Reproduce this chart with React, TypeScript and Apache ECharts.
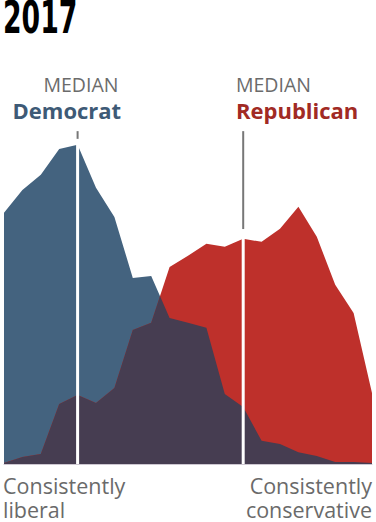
import React, { useEffect, useRef } from "react";
import * as echarts from "echarts";

// Ideological consistency scale (-10 consistently liberal ... +10 consistently conservative)
const scores = [-10, -9, -8, -7, -6, -5, -4, -3, -2, -1, 0, 1, 2, 3, 4, 5, 6, 7, 8, 9, 10];
// Share (%) of each party at each score, 2017
const democrat = [8.47, 9.24, 9.75, 10.62, 10.76, 9.31, 8.33, 6.27, 6.34, 4.92, 4.76, 4.59, 2.36, 1.92, 0.78, 0.67, 0.4, 0.27, 0.07, 0.07, 0.03];
const republican = [0.03, 0.24, 0.34, 2.02, 2.33, 2.06, 2.56, 4.52, 4.76, 6.64, 7.02, 7.42, 7.32, 7.59, 7.49, 7.93, 8.67, 7.66, 6.04, 5.09, 2.39];
const medianDemocrat = -6;
const medianRepublican = 3;
const yMax = 12;
const medianTickTop = 11.22;
const demTickBottom = 10.96;
const repTickBottom = 7.92;

const title = "2017";
const medianLabel = "MEDIAN";
const demLabel = "Democrat";
const repLabel = "Republican";
const leftLabel = ["Consistently", "liberal"];
const rightLabel = ["Consistently", "conservative"];

const BLUE = "#44637f";
const RED = "#be302b";
const DARK = "#463d51";

function overlap(xs: number[], a: number[], b: number[]) {
  const out: number[][] = [];
  for (let i = 0; i < xs.length; i++) {
    out.push([xs[i], Math.min(a[i], b[i])]);
    if (i < xs.length - 1) {
      const d0 = a[i] - b[i];
      const d1 = a[i + 1] - b[i + 1];
      if (d0 * d1 < 0) {
        const t = d0 / (d0 - d1);
        out.push([xs[i] + t * (xs[i + 1] - xs[i]), a[i] + t * (a[i + 1] - a[i])]);
      }
    }
  }
  return out;
}

export default function App() {
  const ref = useRef<HTMLDivElement>(null);
  useEffect(() => {
    if (!ref.current) return;
    const chart = echarts.init(ref.current, null, { renderer: "svg" });
    const area = (name: string, data: number[][], color: string) => ({
      name,
      type: "line",
      data,
      symbol: "none",
      lineStyle: { width: 0, opacity: 0 },
      areaStyle: { color, opacity: 1 },
      silent: true,
    });
    const vline = (x: number, y0: number, y1: number, color: string, width: number) => ({
      type: "line",
      data: [
        [x, y0],
        [x, y1],
      ],
      symbol: "none",
      lineStyle: { color, width },
      silent: true,
      z: 5,
    });
    const textSans = "'Open Sans', 'Noto Sans', sans-serif";
    const label = (text: string, x: number, y: number, size: number, fill: string, extra: any = {}) => ({
      type: "text",
      x,
      y,
      style: {
        text,
        fontFamily: textSans,
        fontSize: size,
        lineHeight: size,
        fill,
        verticalAlign: "middle",
        ...extra,
      },
    });
    chart.setOption({
      animation: false,
      grid: { left: 4, right: 4, top: 108, bottom: 58 },
      xAxis: {
        type: "value",
        min: -10,
        max: 10,
        z: 6,
        axisLine: { show: true, lineStyle: { color: "#cdc7d1", width: 1 } },
        axisTick: { show: false },
        axisLabel: { show: false },
        splitLine: { show: false },
      },
      yAxis: { type: "value", min: 0, max: yMax, show: false },
      series: [
        area("Democrat", scores.map((s, i) => [s, democrat[i]]), BLUE),
        area("Republican", scores.map((s, i) => [s, republican[i]]), RED),
        area("Both", overlap(scores, democrat, republican), DARK),
        vline(medianDemocrat, 0, medianTickTop, "#ffffff", 3),
        vline(medianRepublican, 0, medianTickTop, "#ffffff", 3),
        vline(medianDemocrat, demTickBottom, medianTickTop, "#777777", 2),
        vline(medianRepublican, repTickBottom, medianTickTop, "#777777", 2),
      ],
      graphic: [
        {
          type: "text",
          x: 3,
          y: 18,
          scaleX: 0.66,
          style: {
            text: title,
            fontFamily: "'Liberation Sans Narrow', 'DejaVu Sans Condensed', 'DejaVu Sans', sans-serif",
            fontWeight: "bold",
            fontSize: 45,
            lineHeight: 34,
            fill: "#000",
            verticalAlign: "middle",
          },
        },
        label(medianLabel, 43.5, 84, 19.5, "#6b6b6b"),
        label(medianLabel, 236, 84, 19.5, "#6b6b6b"),
        label(demLabel, 12.5, 109.5, 22, "#3e5a76", { fontWeight: "bold" }),
        label(repLabel, 236, 109.5, 22, "#a12a24", { fontWeight: "bold" }),
        label(leftLabel[0], 3, 485, 21.5, "#6a6a6a", { lineHeight: 21 }),
        label(leftLabel[1], 3, 509, 21.5, "#6a6a6a", { lineHeight: 21 }),
        label(rightLabel[0], 372, 485, 21.5, "#6a6a6a", { align: "right", lineHeight: 21 }),
        label(rightLabel[1], 372, 509, 21.5, "#6a6a6a", { align: "right", lineHeight: 21 }),
      ],
    });
    return () => chart.dispose();
  }, []);
  return (
    <div
      ref={ref}
      style={{ position: "fixed", left: 0, top: 0, width: 376, height: 522, background: "#fff" }}
    />
  );
}
